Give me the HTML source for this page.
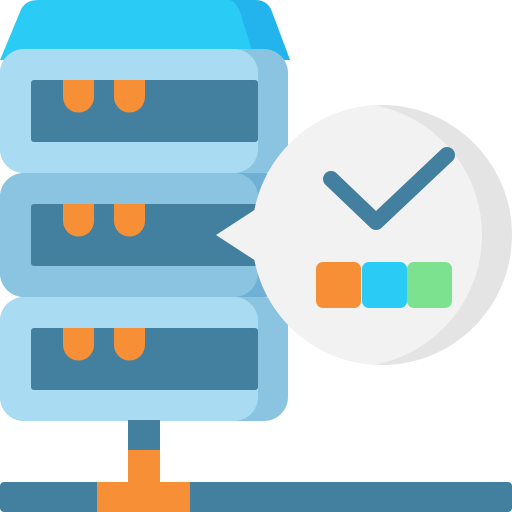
<!DOCTYPE html>
<html><head><style>html,body{margin:0;padding:0;background:#fff}svg{display:block}</style></head><body>
<svg width="512" height="512" viewBox="0 0 512 512" xmlns="http://www.w3.org/2000/svg">
<defs><clipPath id="c"><circle cx="382" cy="235" r="130"/></clipPath></defs>
<path d="M38 0 H255 Q268 0 272 12 L290 60 H0 L20 12 Q24 0 38 0Z" fill="#2accf6"/>
<path d="M230 0 H255 Q268 0 272 12 L290 60 H255 L240 12 Q236 2 230 0Z" fill="#23b4ed"/>
<g id="u">
<rect x="0" y="49" width="288" height="124" rx="24" fill="#8ac4e1"/>
<rect x="0" y="49" width="258" height="124" rx="24" fill="#a9dbf3"/>
<rect x="31" y="80" width="227" height="62" rx="3" fill="#437f9e"/>
<path d="M63 80 H94 V97 A15.5 15.5 0 0 1 63 97Z" fill="#f68f36"/>
<path d="M114 80 H145 V97 A15.5 15.5 0 0 1 114 97Z" fill="#f68f36"/>
</g>
<rect x="0" y="173" width="288" height="124" rx="24" fill="#6fb0d4"/>
<rect x="0" y="173" width="258" height="124" rx="24" fill="#8ac4e1"/>
<rect x="31" y="204" width="227" height="62" rx="3" fill="#437f9e"/>
<path d="M63 204 H94 V221 A15.5 15.5 0 0 1 63 221Z" fill="#f68f36"/>
<path d="M114 204 H145 V221 A15.5 15.5 0 0 1 114 221Z" fill="#f68f36"/>
<use href="#u" y="248"/>
<rect x="128" y="420" width="32" height="32" fill="#437f9e"/>
<rect x="128" y="450" width="32" height="34" fill="#f68f36"/>
<rect x="0" y="482" width="512" height="30" rx="4" fill="#437f9e"/>
<rect x="97" y="482" width="93" height="30" fill="#f68f36"/>
<circle cx="382" cy="235" r="130" fill="#e4e4e4"/>
<circle cx="350" cy="235" r="132" fill="#f2f2f2" clip-path="url(#c)"/>
<path d="M216 235 L262 205 L262 265Z" fill="#f2f2f2"/>
<polyline points="331,179 376,222 447,155" fill="none" stroke="#437f9e" stroke-width="16" stroke-linecap="round" stroke-linejoin="round"/>
<rect x="316" y="262" width="45" height="46" rx="7" fill="#f68f36"/>
<rect x="362" y="262" width="45" height="46" rx="7" fill="#2accf6"/>
<rect x="407" y="262" width="45" height="46" rx="7" fill="#7ce28f"/>
</svg>
</body></html>
